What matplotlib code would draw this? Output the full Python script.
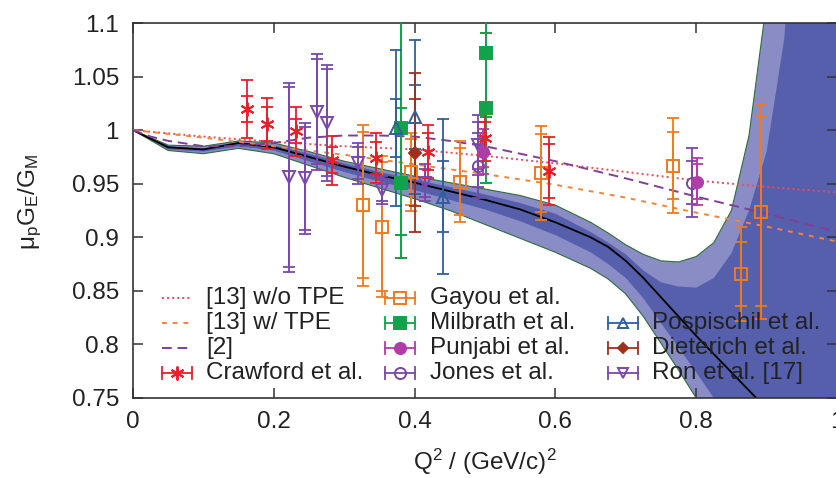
import matplotlib
matplotlib.use('Agg')
import matplotlib.pyplot as plt
import matplotlib.transforms as mtransforms

plt.rcParams['font.family'] = ['Liberation Sans', 'DejaVu Sans']
plt.rcParams['mathtext.fontset'] = 'custom'
plt.rcParams['mathtext.rm'] = 'Liberation Sans'
plt.rcParams['mathtext.it'] = 'Liberation Sans:italic'
plt.rcParams['mathtext.default'] = 'regular'

# ---------------- data ----------------
xticks = [0, 0.2, 0.4, 0.6, 0.8, 1.0]
xtick_labels = ['0', '0.2', '0.4', '0.6', '0.8', '1']
yticks = [0.75, 0.8, 0.85, 0.9, 0.95, 1.0, 1.05, 1.1]
ytick_labels = ['0.75', '0.8', '0.85', '0.9', '0.95', '1', '1.05', '1.1']

# theory curves
tpe_x = [0.0, 0.1, 0.2, 0.3, 0.4, 0.5, 0.6, 0.7, 0.8, 0.9, 1.0]
notpe_y = [1.0, 0.994, 0.989, 0.985, 0.982, 0.976, 0.969, 0.961, 0.953, 0.947, 0.942]
withtpe_y = [1.0, 0.993, 0.985, 0.977, 0.968, 0.959, 0.949, 0.937, 0.923, 0.910, 0.896]

ref2_x = [0.0, 0.025, 0.05, 0.1, 0.15, 0.2, 0.25, 0.3, 0.35, 0.4, 0.45, 0.5, 0.55, 0.6, 0.7, 0.8, 0.9, 1.0]
ref2_y = [1.0, 0.994, 0.990, 0.985, 0.985, 0.988, 0.993, 0.995, 0.995, 0.994, 0.990, 0.985, 0.978, 0.971, 0.955, 0.938, 0.922, 0.905]

# fit with uncertainty bands
band_x = [0.00, 0.05, 0.10, 0.15, 0.20, 0.25, 0.30, 0.35, 0.40, 0.45, 0.50, 0.55, 0.60, 0.65, 0.675,
          0.70, 0.725, 0.75, 0.775, 0.80, 0.825, 0.85, 0.875, 0.90, 0.925, 0.95, 0.975, 1.00]
fit_y = [1.000, 0.984, 0.982, 0.988, 0.984, 0.975, 0.966, 0.958, 0.951, 0.943, 0.935, 0.926, 0.914, 0.900, 0.891,
         0.878, 0.862, 0.844, 0.826, 0.808, 0.791, 0.774, 0.757, 0.740, 0.723, 0.706, 0.690, 0.673]
outer_up = [1.000, 0.986, 0.985, 0.990, 0.988, 0.980, 0.971, 0.964, 0.957, 0.951, 0.945, 0.939, 0.930, 0.914, 0.904,
            0.893, 0.884, 0.878, 0.877, 0.882, 0.895, 0.925, 0.995, 1.12, 1.30, 1.50, 1.50, 1.50]
inner_up = [1.000, 0.985, 0.983, 0.989, 0.986, 0.978, 0.969, 0.961, 0.954, 0.947, 0.940, 0.932, 0.922, 0.905, 0.895,
            0.884, 0.869, 0.858, 0.854, 0.853, 0.862, 0.885, 0.925, 0.980, 1.085, 1.30, 1.50, 1.50]
inner_lo = [1.000, 0.982, 0.980, 0.985, 0.981, 0.971, 0.961, 0.952, 0.944, 0.935, 0.926, 0.915, 0.902, 0.886, 0.875,
            0.862, 0.843, 0.820, 0.797, 0.774, 0.750, 0.725, 0.700, 0.670, 0.640, 0.610, 0.580, 0.550]
outer_lo = [1.000, 0.981, 0.978, 0.983, 0.978, 0.967, 0.956, 0.946, 0.936, 0.925, 0.912, 0.899, 0.886, 0.871, 0.861,
            0.847, 0.826, 0.801, 0.776, 0.750, 0.723, 0.694, 0.660, 0.620, 0.580, 0.540, 0.500, 0.460]

# experimental data
crawford_q2 = [0.162, 0.191, 0.232, 0.282, 0.345, 0.419, 0.500, 0.591]
crawford_r = [1.020, 1.006, 0.999, 0.972, 0.974, 0.980, 0.993, 0.962]
crawford_stat = [0.012, 0.016, 0.011, 0.012, 0.015, 0.017, 0.015, 0.025]
crawford_tot = [0.027, 0.024, 0.023, 0.023, 0.023, 0.025, 0.022, 0.032]

gayou_q2 = [0.326, 0.354, 0.395, 0.464, 0.580, 0.767, 0.863, 0.892]
gayou_r = [0.930, 0.910, 0.961, 0.952, 0.960, 0.967, 0.866, 0.924]
gayou_stat = [0.068, 0.060, 0.031, 0.031, 0.036, 0.031, 0.030, 0.088]
gayou_tot = [0.075, 0.066, 0.036, 0.038, 0.044, 0.044, 0.044, 0.100]

milbrath_q2 = [0.381, 0.381, 0.502, 0.502]
milbrath_r = [0.951, 1.002, 1.021, 1.072]
milbrath_err = [0.070, 0.100, 0.070, 0.060]

pospischil_q2 = [0.374, 0.401, 0.441]
pospischil_r = [1.002, 1.012, 0.938]
pospischil_stat = [0.027, 0.030, 0.033]
pospischil_tot = [0.073, 0.072, 0.072]

dieterich_q2 = [0.401]
dieterich_r = [0.979]
dieterich_stat = [0.050]
dieterich_tot = [0.074]

punjabi_q2 = [0.497, 0.801]
punjabi_r = [0.980, 0.952]
punjabi_stat = [0.014, 0.016]
punjabi_tot = [0.021, 0.022]

jones_q2 = [0.490, 0.794]
jones_r = [0.967, 0.951]
jones_stat = [0.020, 0.020]
jones_tot = [0.030, 0.032]

ron_q2 = [0.222, 0.245, 0.262, 0.276, 0.319, 0.354, 0.415, 0.490]
ron_r = [0.956, 0.955, 1.017, 1.007, 0.969, 0.944, 0.951, 0.986]
ron_stat = [0.084, 0.048, 0.049, 0.050, 0.015, 0.010, 0.013, 0.022]
ron_tot = [0.088, 0.052, 0.054, 0.054, 0.019, 0.013, 0.017, 0.028]

# ---------------- styles ----------------
C_NOTPE = '#ee4a5a'
C_TPE = '#f4833c'
C_REF2 = '#7f3f98'
C_CRAW = '#e8202a'
C_GAYOU = '#f07a1e'
C_MILB = '#12a24a'
C_PUNJ = '#b03ca8'
C_JONES = '#7a46a6'
C_POSP = '#2f5f9e'
C_DIET = '#a0301e'
C_RON = '#7a48aa'
C_DARK = '#555fab'
C_LIGHT = '#8a8cc6'
C_EDGE = '#2e6e3a'
TXT = '#222222'
FS = 17.5

W, H = 836, 478
fig = plt.figure(figsize=(W / 100, H / 100), dpi=100)
ax = fig.add_axes([133 / W, (H - 398) / H, 704 / W, 375 / H])

# bands
ax.fill_between(band_x, outer_lo, outer_up, color=C_LIGHT, lw=0, zorder=1)
ax.fill_between(band_x, inner_lo, inner_up, color=C_DARK, lw=0, zorder=1.5)
ax.plot(band_x, outer_up, color=C_EDGE, lw=0.8, zorder=1.6)
ax.plot(band_x, outer_lo, color=C_EDGE, lw=0.8, zorder=1.6)
ax.plot(band_x, fit_y, color='black', lw=1.3, zorder=2)

# curves
ax.plot(tpe_x, notpe_y, color=C_NOTPE, lw=1.4, ls=(0, (1, 1.6)), zorder=3)
ax.plot(tpe_x, withtpe_y, color=C_TPE, lw=1.4, ls=(0, (2.5, 3)), zorder=3)
ax.plot(ref2_x, ref2_y, color=C_REF2, lw=1.4, ls=(0, (5, 3)), zorder=3)

CAP = 4.5
ELW = 1.3


def draw_set(x, y, stat, tot, color, marker, filled, ms):
    ax.errorbar(x, y, yerr=tot, fmt='none', ecolor=color, elinewidth=ELW,
                capsize=CAP, capthick=ELW, zorder=5)
    ax.errorbar(x, y, yerr=stat, fmt='none', ecolor=color, elinewidth=ELW,
                capsize=CAP, capthick=ELW, zorder=5)
    ax.plot(x, y, ls='none', marker=marker, ms=ms, mew=1.4, mec=color,
            mfc=color if filled else 'none', zorder=6)


draw_set(gayou_q2, gayou_r, gayou_stat, gayou_tot, C_GAYOU, 's', False, 8)
draw_set(milbrath_q2, milbrath_r, milbrath_err, milbrath_err, C_MILB, 's', True, 8)
draw_set(pospischil_q2, pospischil_r, pospischil_stat, pospischil_tot, C_POSP, '^', False, 9)
draw_set(dieterich_q2, dieterich_r, dieterich_stat, dieterich_tot, C_DIET, 'D', True, 6)
draw_set(ron_q2, ron_r, ron_stat, ron_tot, C_RON, 'v', False, 9)
draw_set(jones_q2, jones_r, jones_stat, jones_tot, C_JONES, 'o', False, 8)
draw_set(punjabi_q2, punjabi_r, punjabi_stat, punjabi_tot, C_PUNJ, 'o', True, 8)
draw_set(crawford_q2, crawford_r, crawford_stat, crawford_tot, C_CRAW, (6, 2, 0), False, 10)

# axes
ax.set_xlim(0, 1)
ax.set_ylim(0.75, 1.1)
ax.set_xticks(xticks)
ax.set_xticklabels(xtick_labels)
ax.set_yticks(yticks)
ax.set_yticklabels(ytick_labels)
ax.tick_params(direction='in', top=True, right=True, length=7, width=1.1,
               labelsize=FS, colors='#333333', labelcolor=TXT)
ax.tick_params(axis='x', pad=9)
ax.tick_params(axis='y', pad=10)
for s in ax.spines.values():
    s.set_color('#333333')
    s.set_linewidth(1.2)

ax.set_xlabel('Q$^2$ / (GeV/c)$^2$', fontsize=FS, color=TXT)
ax.xaxis.label.set_va('center')
ax.xaxis.set_label_coords(0.5, (398 - 462) / 375)
ax.set_ylabel('μ$_p$G$_E$/G$_M$', fontsize=FS, color=TXT)
ax.yaxis.label.set_va('center')
ax.yaxis.set_label_coords((30 - 133) / 704, (398 - 202) / 375)

# ---------------- legend (gnuplot-style key) ----------------
T = mtransforms.Affine2D().scale(1, -1).translate(0, H)
rows = [298, 323, 348, 373]
cols = [(162, 206), (385, 430), (608, 652)]
HW = 30


def key_line(col, row, label, color, ls):
    x0, xt = cols[col]
    y = rows[row]
    ax.add_line(plt.Line2D([x0, x0 + HW], [y, y], color=color, lw=1.4, ls=ls,
                           transform=T, clip_on=False, zorder=8))
    ax.text(xt, y, label, transform=T, fontsize=FS, color=TXT, va='center', ha='left', zorder=8)


def key_err(col, row, label, color, marker, filled, ms):
    x0, xt = cols[col]
    y = rows[row]
    ax.add_line(plt.Line2D([x0, x0 + HW], [y, y], color=color, lw=1.3,
                           transform=T, clip_on=False, zorder=8))
    for xc in (x0, x0 + HW):
        ax.add_line(plt.Line2D([xc, xc], [y - 6, y + 6], color=color, lw=1.3,
                               transform=T, clip_on=False, zorder=8))
    ax.add_line(plt.Line2D([x0 + HW / 2], [y], ls='none', marker=marker, ms=ms, mew=1.4,
                           mec=color, mfc=color if filled else 'none',
                           transform=T, clip_on=False, zorder=9))
    ax.text(xt, y, label, transform=T, fontsize=FS, color=TXT, va='center', ha='left', zorder=8)


key_line(0, 0, '[13] w/o TPE', C_NOTPE, (0, (1, 1.6)))
key_line(0, 1, '[13] w/ TPE', C_TPE, (0, (2.5, 3)))
key_line(0, 2, '[2]', C_REF2, (0, (5, 3)))
key_err(0, 3, 'Crawford et al.', C_CRAW, (6, 2, 0), False, 10)
key_err(1, 0, 'Gayou et al.', C_GAYOU, 's', False, 8)
key_err(1, 1, 'Milbrath et al.', C_MILB, 's', True, 8)
key_err(1, 2, 'Punjabi et al.', C_PUNJ, 'o', True, 8)
key_err(1, 3, 'Jones et al.', C_JONES, 'o', False, 8)
key_err(2, 1, 'Pospischil et al.', C_POSP, '^', False, 7)
key_err(2, 2, 'Dieterich et al.', C_DIET, 'D', True, 5)
key_err(2, 3, 'Ron et al. [17]', C_RON, 'v', False, 7)

fig.savefig('out.png', dpi=100)
